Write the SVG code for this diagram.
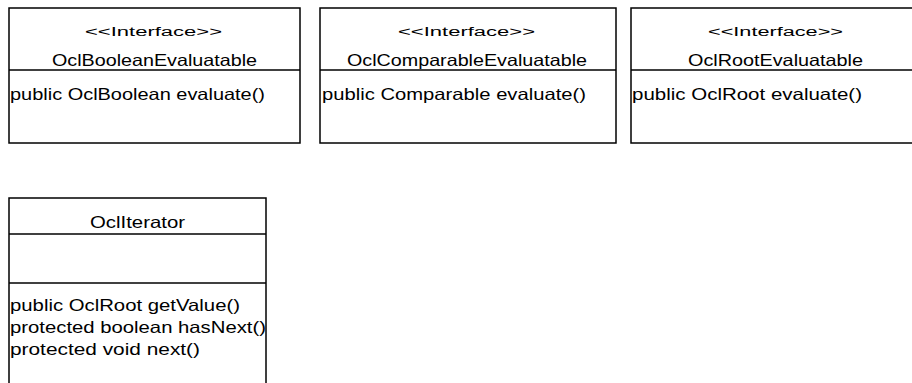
<svg xmlns="http://www.w3.org/2000/svg" width="912" height="383" viewBox="0 0 912 383">
<style>
.box{fill:#fff;stroke:#000;stroke-width:1.5}
.sep{stroke:#000;stroke-width:1.5}
.st{font-family:"Liberation Sans",Arial,sans-serif;font-size:12.5px;fill:#000}
.nm{font-family:"Liberation Sans",Arial,sans-serif;font-size:16.5px;fill:#000}
.op{font-family:"Liberation Sans",Arial,sans-serif;font-size:16.5px;fill:#000}
</style>
<rect width="912" height="383" fill="#fff"/>
<g id="OclBooleanEvaluatable">
<rect class="box" x="9" y="8" width="291" height="135"/>
<line class="sep" x1="9" y1="70" x2="300" y2="70"/>
<text class="st" x="85" y="36" textLength="137" lengthAdjust="spacingAndGlyphs">&lt;&lt;Interface&gt;&gt;</text>
<text class="nm" x="52" y="66" textLength="205" lengthAdjust="spacingAndGlyphs">OclBooleanEvaluatable</text>
<text class="op" x="10" y="100" textLength="255" lengthAdjust="spacingAndGlyphs">public  OclBoolean evaluate()</text>
</g>
<g id="OclComparableEvaluatable">
<rect class="box" x="320" y="8" width="296" height="135"/>
<line class="sep" x1="320" y1="70" x2="616" y2="70"/>
<text class="st" x="398" y="36" textLength="137" lengthAdjust="spacingAndGlyphs">&lt;&lt;Interface&gt;&gt;</text>
<text class="nm" x="347" y="66" textLength="240" lengthAdjust="spacingAndGlyphs">OclComparableEvaluatable</text>
<text class="op" x="322" y="100" textLength="264" lengthAdjust="spacingAndGlyphs">public  Comparable evaluate()</text>
</g>
<g id="OclRootEvaluatable">
<rect class="box" x="631" y="8" width="291" height="135"/>
<line class="sep" x1="631" y1="70" x2="922" y2="70"/>
<text class="st" x="708" y="36" textLength="135" lengthAdjust="spacingAndGlyphs">&lt;&lt;Interface&gt;&gt;</text>
<text class="nm" x="688" y="66" textLength="175" lengthAdjust="spacingAndGlyphs">OclRootEvaluatable</text>
<text class="op" x="632" y="100" textLength="230" lengthAdjust="spacingAndGlyphs">public  OclRoot evaluate()</text>
</g>
<g id="OclIterator">
<rect class="box" x="9" y="198" width="257" height="210"/>
<line class="sep" x1="9" y1="234" x2="266" y2="234"/>
<line class="sep" x1="9" y1="283" x2="266" y2="283"/>
<text class="nm" x="90" y="228" textLength="95" lengthAdjust="spacingAndGlyphs">OclIterator</text>
<text class="op" x="10" y="311" textLength="230" lengthAdjust="spacingAndGlyphs">public  OclRoot getValue()</text>
<text class="op" x="10" y="333" textLength="256" lengthAdjust="spacingAndGlyphs">protected boolean hasNext()</text>
<text class="op" x="10" y="355" textLength="190" lengthAdjust="spacingAndGlyphs">protected void next()</text>
</g>
<g id="connectors"></g>
</svg>
